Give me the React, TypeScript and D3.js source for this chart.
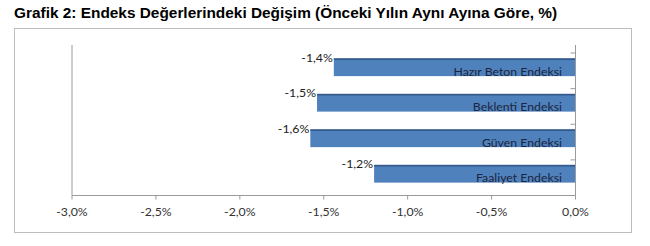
import React from "react";
import * as d3 from "d3";

const categories = ["Hazır Beton Endeksi", "Beklenti Endeksi", "Güven Endeksi", "Faaliyet Endeksi"];
const values = [-1.44, -1.54, -1.58, -1.2];
const valueLabels = ["-1,4%", "-1,5%", "-1,6%", "-1,2%"];
const xTicks = [-3, -2.5, -2, -1.5, -1, -0.5, 0];
const xTickLabels = ["-3,0%", "-2,5%", "-2,0%", "-1,5%", "-1,0%", "-0,5%", "0,0%"];
const title = "Grafik 2: Endeks Değerlerindeki Değişim (Önceki Yılın Aynı Ayına Göre, %)";

const W = 650;
const H = 246;
const font = "Lato, 'Open Sans', sans-serif";

export default function App() {
  const x = d3.scaleLinear().domain([-3, 0]).range([72, 575.5]);
  const y = d3
    .scaleBand<string>()
    .domain(categories)
    .range([49.5, 191.5])
    .paddingInner(0.5)
    .paddingOuter(0.25);
  const tickY = d3.scaleLinear().domain([0, categories.length]).range([53, 195.5]);
  const axisTop = 45;
  const axisBottom = 195.5;

  return (
    <svg
      width={W}
      height={H}
      style={{ position: "absolute", left: 0, top: 0, background: "#fff" }}
    >
      <rect x={0} y={0} width={W} height={H} fill="#fff" />
      <text
        x={14}
        y={18}
        fontFamily="'Liberation Sans', Arial, sans-serif"
        fontWeight="bold"
        fontSize={15.4}
        fill="#000"
      >
        {title}
      </text>
      <rect x={14.5} y={28.5} width={617} height={204} fill="#fff" stroke="#bcbcbc" strokeWidth={1} />

      {/* left line */}
      <line x1={x(-3)} x2={x(-3)} y1={axisTop} y2={axisBottom} stroke="#9a9a9a" strokeWidth={1} />
      {/* bottom axis */}
      <line x1={x(-3)} x2={x(0)} y1={axisBottom} y2={axisBottom} stroke="#9a9a9a" strokeWidth={1} />
      {xTicks.map((t, i) => (
        <g key={"xt" + i}>
          <line x1={x(t)} x2={x(t)} y1={axisBottom} y2={axisBottom + 4} stroke="#9a9a9a" />
          <text
            x={x(t)}
            y={216}
            textAnchor="middle"
            fontFamily={font}
            fontSize={12.3}
            fill="#333"
          >
            {xTickLabels[i]}
          </text>
        </g>
      ))}

      {/* bars */}
      {categories.map((c, i) => {
        const y0 = y(c)!;
        const bh = y.bandwidth();
        const x0 = x(values[i]);
        return (
          <g key={c}>
            <rect x={x0} y={y0} width={x(0) - x0} height={bh} fill="#4f81bd" />
            <rect x={x0} y={y0} width={x(0) - x0} height={1.6} fill="#34598a" />
            <text
              x={x0 - 1}
              y={y0 + 3.5}
              textAnchor="end"
              fontFamily={font}
              fontSize={12.3}
              fill="#222"
            >
              {valueLabels[i]}
            </text>
            <text
              x={562}
              y={y0 + bh - 0.5}
              textAnchor="end"
              fontFamily={font}
              fontSize={12.3}
              fill="#1c2540"
            >
              {c}
            </text>
          </g>
        );
      })}

      {/* vertical axis at zero */}
      <line x1={x(0)} x2={x(0)} y1={axisTop} y2={axisBottom} stroke="#9a9a9a" strokeWidth={1} />
      {d3.range(categories.length + 1).map((i) => (
        <line
          key={"yt" + i}
          x1={x(0) - 5}
          x2={x(0)}
          y1={tickY(i)}
          y2={tickY(i)}
          stroke="#9a9a9a"
        />
      ))}
    </svg>
  );
}
